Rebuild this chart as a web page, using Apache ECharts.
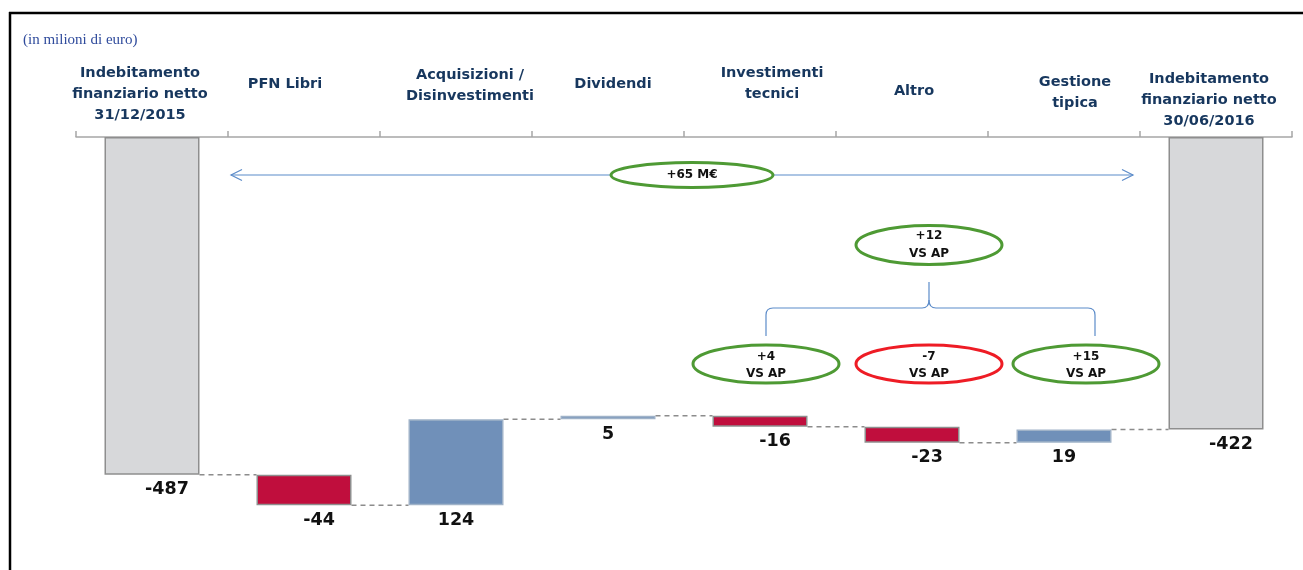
<!DOCTYPE html>
<html>
<head>
<meta charset="utf-8">
<script src="https://cdn.jsdelivr.net/npm/echarts@6/dist/echarts.min.js"></script>
<style>
html,body{margin:0;padding:0;background:#fff;}
#chart{width:1303px;height:570px;}
</style>
</head>
<body>
<div id="chart"></div>
<script>
// ---- data ----
const categories = [
  'Indebitamento\nfinanziario netto\n31/12/2015',
  'PFN Libri',
  'Acquisizioni /\nDisinvestimenti',
  'Dividendi',
  'Investimenti\ntecnici',
  'Altro',
  'Gestione\ntipica',
  'Indebitamento\nfinanziario netto\n30/06/2016'
];
const values = [-487, -44, 124, 5, -16, -23, 19, -422];
const kinds = ['total', 'delta', 'delta', 'delta', 'delta', 'delta', 'delta', 'total'];
const unitNote = '(in milioni di euro)';
const totalNote = '+65 M€';
const groupNote = '+12\nVS AP';
const subNotes = ['+4\nVS AP', '-7\nVS AP', '+15\nVS AP'];

// ---- styles ----
const labelGap = [6.5, 37.5, 25.5, 37.5, 27.5, 30.5, 18.5, 0.5];
const labelShift = [-12, -19, 14, 5, 12, 2, 11, -7];
const GREEN = '#4E9A34', RED = '#EE1C25', ARROW = '#5B8BC9';

// ---- build waterfall ----
const base = [], visible = [], levels = [];
let running = 0;
values.forEach((v, i) => {
  if (kinds[i] === 'total') {
    base.push(0);
    visible.push(v);
    running = v;
  } else {
    const start = running, end = running + v;
    base.push(Math.max(start, end));
    visible.push(Math.min(start, end) - Math.max(start, end));
    running = end;
  }
  levels.push(running);
});
const connectors = levels.slice(0, -1).map((l, i) => [i, l]);

function colorOf(i) {
  if (kinds[i] === 'total') return {fill: '#D7D8DA', border: '#8E8E8E'};
  return values[i] < 0 ? {fill: '#C00E3D', border: '#8E8E8E'} : {fill: '#7090B9', border: '#9FB2C8'};
}

const rich = {};
labelGap.forEach((g, i) => {
  const d = labelShift[i];
  rich['c' + i] = {
    lineHeight: 21, fontSize: 14.5, fontWeight: 'bold', color: '#17375E', fontFamily: 'DejaVu Sans',
    padding: [0, d < 0 ? -2 * d : 0, 0, d > 0 ? 2 * d : 0]
  };
  rich['g' + i] = {lineHeight: g, fontSize: 1};
});

const bl = {stroke: ARROW, lineWidth: 1.2, fill: null};
function ln(x1, y1, x2, y2) { return {type: 'line', shape: {x1, y1, x2, y2}, style: bl}; }
function qc(x1, y1, cx, cy, x2, y2) { return {type: 'bezierCurve', shape: {x1, y1, x2, y2, cpx1: cx, cpy1: cy}, style: bl}; }
const noteFont = 'bold 12px "DejaVu Sans"';

const chart = echarts.init(document.getElementById('chart'));
chart.setOption({
  animation: false,
  grid: {left: 76, right: 11, top: 137, bottom: 17, containLabel: false},
  xAxis: {
    type: 'category',
    position: 'top',
    data: categories,
    axisLine: {onZero: false, lineStyle: {color: '#A6A6A6', width: 1.5}},
    axisTick: {show: true, length: 6, lineStyle: {color: '#A6A6A6', width: 1.5}},
    axisLabel: {
      interval: 0,
      margin: 5,
      formatter: (val, idx) => val.split('\n').map(l => '{c' + idx + '|' + l + '}').join('\n') + '\n{g' + idx + '|\u00a0}',
      rich: rich
    }
  },
  yAxis: {type: 'value', min: -600, max: 0, show: false, splitLine: {show: false}},
  series: [
    {
      type: 'bar', stack: 'wf', data: base, barWidth: '62.5%',
      itemStyle: {color: 'transparent', borderColor: 'transparent'},
      silent: true
    },
    {
      type: 'bar', stack: 'wf', barWidth: '62.5%',
      data: visible.map((v, i) => ({
        value: v,
        itemStyle: {color: colorOf(i).fill, borderColor: colorOf(i).border, borderWidth: 1.5},
        label: {offset: [values[i] < 0 ? 15 : 0, 0]}
      })),
      label: {
        show: true, position: 'bottom', distance: 6,
        formatter: p => String(values[p.dataIndex]),
        fontFamily: 'DejaVu Sans', fontWeight: 'bold', fontSize: 17.5, color: '#111'
      }
    },
    {
      type: 'custom',
      data: connectors,
      z: 1,
      renderItem: (params, api) => {
        const i = api.value(0), lvl = api.value(1);
        const p0 = api.coord([i, lvl]);
        const p1 = api.coord([i + 1, lvl]);
        const bw = api.size([1, 0])[0] * 0.625;
        return {
          type: 'line',
          shape: {x1: p0[0] + bw / 2, y1: p0[1], x2: p1[0] - bw / 2, y2: p1[1]},
          style: {stroke: '#8C8C8C', lineWidth: 1.5, lineDash: [5, 4]}
        };
      }
    }
  ],
  graphic: [
    // frame
    {type: 'line', shape: {x1: 9, y1: 13, x2: 1303, y2: 13}, style: {stroke: '#000', lineWidth: 2.5}},
    {type: 'line', shape: {x1: 10, y1: 12, x2: 10, y2: 570}, style: {stroke: '#000', lineWidth: 2.5}},
    // unit note
    {type: 'text', x: 23, y: 40, style: {text: unitNote, font: '15px "Liberation Serif"', fill: '#2F4B9C', verticalAlign: 'middle'}},
    // double arrow
    {type: 'line', shape: {x1: 231, y1: 175, x2: 1133, y2: 175}, style: {stroke: ARROW, lineWidth: 1.2}},
    {type: 'polyline', shape: {points: [[242, 169.5], [231, 175], [242, 180.5]]}, style: bl},
    {type: 'polyline', shape: {points: [[1122, 169.5], [1133, 175], [1122, 180.5]]}, style: bl},
    {type: 'ellipse', shape: {cx: 692, cy: 175, rx: 81, ry: 12.5}, style: {fill: '#fff', stroke: GREEN, lineWidth: 3}},
    {type: 'text', x: 692, y: 175, style: {text: totalNote, font: noteFont, fill: '#111', align: 'center', verticalAlign: 'middle'}},
    // group ellipse
    {type: 'ellipse', shape: {cx: 929, cy: 245, rx: 73, ry: 19.5}, style: {fill: '#fff', stroke: GREEN, lineWidth: 3}},
    {type: 'text', x: 929, y: 245, style: {text: groupNote, font: noteFont, lineHeight: 18, fill: '#111', align: 'center', verticalAlign: 'middle'}},
    // brace
    ln(766, 336, 766, 315), qc(766, 315, 766, 308, 773, 308), ln(773, 308, 922, 308),
    qc(922, 308, 929, 308, 929, 300), ln(929, 300, 929, 282), qc(929, 300, 929, 308, 936, 308),
    ln(936, 308, 1088, 308), qc(1088, 308, 1095, 308, 1095, 315), ln(1095, 315, 1095, 336),
    // sub ellipses
    {type: 'ellipse', shape: {cx: 766, cy: 364, rx: 73, ry: 19}, style: {fill: '#fff', stroke: GREEN, lineWidth: 3}},
    {type: 'text', x: 766, y: 365, style: {text: subNotes[0], font: noteFont, lineHeight: 17, fill: '#111', align: 'center', verticalAlign: 'middle'}},
    {type: 'ellipse', shape: {cx: 929, cy: 364, rx: 73, ry: 19}, style: {fill: '#fff', stroke: RED, lineWidth: 3}},
    {type: 'text', x: 929, y: 365, style: {text: subNotes[1], font: noteFont, lineHeight: 17, fill: '#111', align: 'center', verticalAlign: 'middle'}},
    {type: 'ellipse', shape: {cx: 1086, cy: 364, rx: 73, ry: 19}, style: {fill: '#fff', stroke: GREEN, lineWidth: 3}},
    {type: 'text', x: 1086, y: 365, style: {text: subNotes[2], font: noteFont, lineHeight: 17, fill: '#111', align: 'center', verticalAlign: 'middle'}}
  ]
});
</script>
</body>
</html>
